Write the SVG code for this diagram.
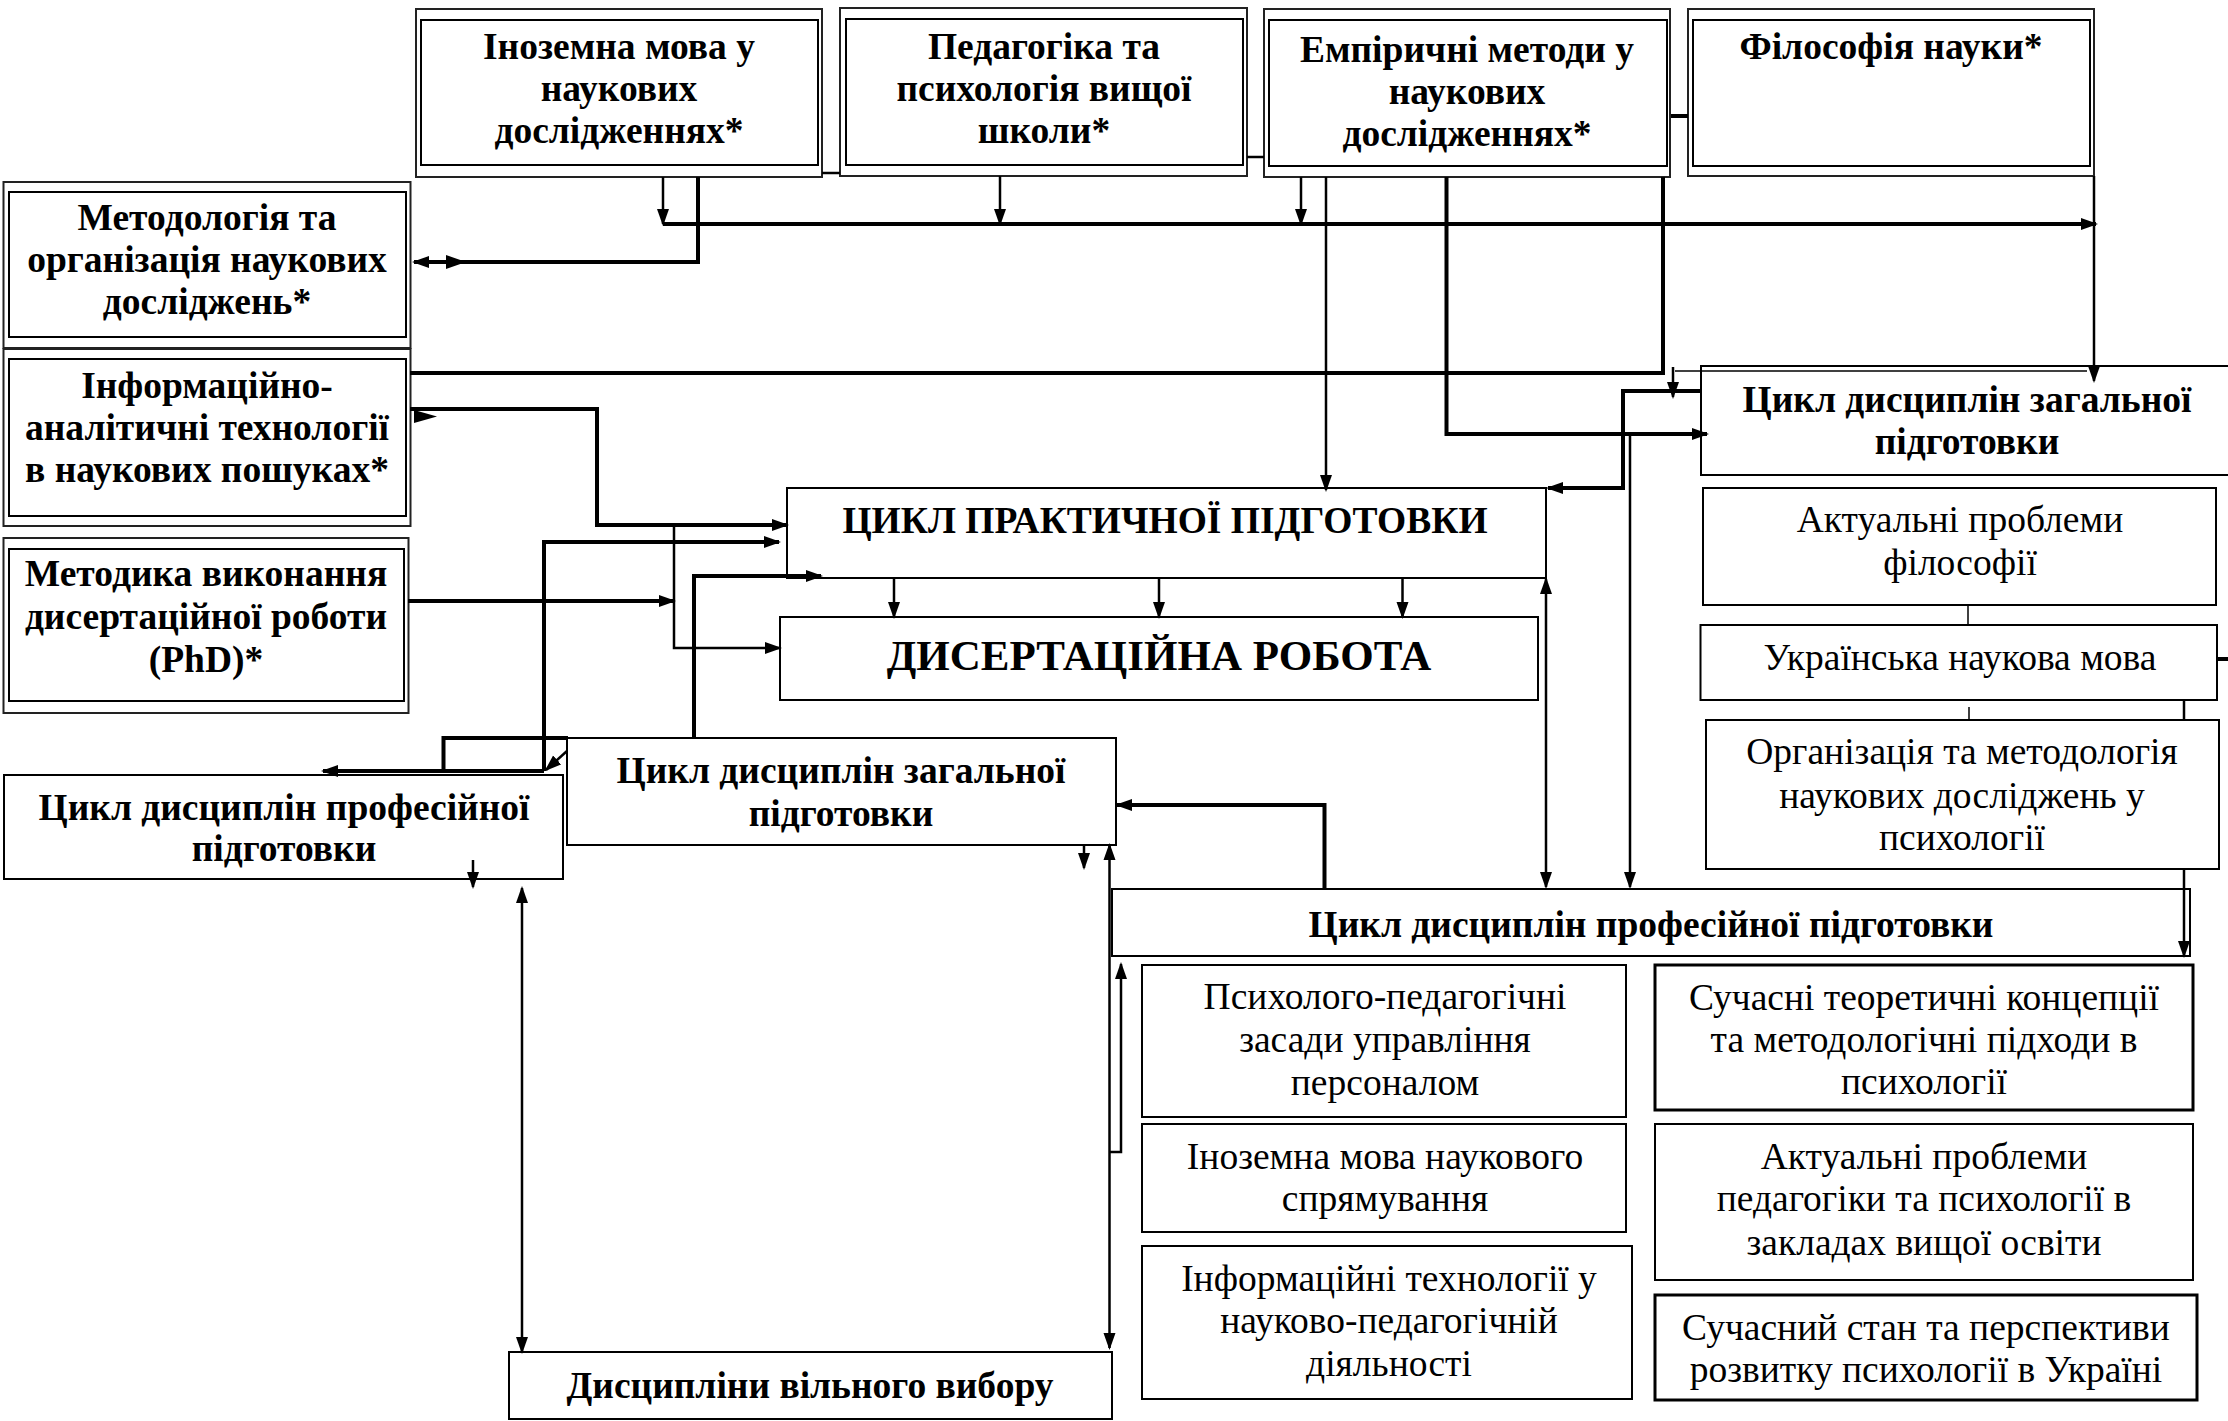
<svg xmlns="http://www.w3.org/2000/svg" width="2228" height="1421" viewBox="0 0 2228 1421">
<style>
.b{font-family:"Liberation Serif","Times New Roman",serif;font-weight:bold;font-size:37.5px;text-anchor:middle;fill:#000}
.r{font-family:"Liberation Serif","Times New Roman",serif;font-weight:normal;font-size:37.5px;text-anchor:middle;fill:#000}
.box{fill:#fff;stroke:#000;stroke-width:2}
.box3{fill:#fff;stroke:#000;stroke-width:3}
.out{fill:#fff;stroke:#222;stroke-width:2}
.ln{fill:none;stroke:#000;stroke-width:2.5}
.tk{fill:none;stroke:#000;stroke-width:4}
.tn{fill:none;stroke:#000;stroke-width:1.5}
.ah{fill:#000}
</style>
<defs>
<marker id="a" markerUnits="userSpaceOnUse" markerWidth="18" markerHeight="14" refX="15" refY="7" orient="auto-start-reverse" viewBox="0 0 18 14"><path d="M0,1 L17,7 L0,13 z" fill="#000"/></marker>
</defs>
<rect width="2228" height="1421" fill="#fff"/>

<g id="n-inozemna">
<rect class="out" x="416" y="9" width="406" height="168"/>
<rect class="box" x="421" y="20" width="397" height="145"/>
<text class="b" x="619" y="59">Іноземна мова у</text>
<text class="b" x="619" y="101">наукових</text>
<text class="b" x="619" y="143">дослідженнях*</text>
</g>
<g id="n-pedagogika">
<rect class="out" x="840" y="8" width="407" height="168"/>
<rect class="box" x="846" y="19" width="397" height="146"/>
<text class="b" x="1044" y="59">Педагогіка та</text>
<text class="b" x="1044" y="101">психологія вищої</text>
<text class="b" x="1044" y="143">школи*</text>
</g>
<g id="n-empirychni">
<rect class="out" x="1264" y="9" width="406" height="168"/>
<rect class="box" x="1269" y="20" width="398" height="146"/>
<text class="b" x="1467" y="62">Емпіричні методи у</text>
<text class="b" x="1467" y="104">наукових</text>
<text class="b" x="1467" y="146">дослідженнях*</text>
</g>
<g id="n-filosofia">
<rect class="out" x="1688" y="9" width="406" height="167"/>
<rect class="box" x="1693" y="20" width="397" height="146"/>
<text class="b" x="1891" y="59">Філософія науки*</text>
</g>
<g id="n-metodologia">
<rect class="out" x="3.5" y="182" width="407" height="166"/>
<rect class="box" x="9" y="192" width="397" height="145"/>
<text class="b" x="207" y="230">Методологія та</text>
<text class="b" x="207" y="272">організація наукових</text>
<text class="b" x="207" y="314">досліджень*</text>
</g>
<g id="n-informatsiyno">
<rect class="out" x="3.5" y="349" width="407" height="177"/>
<rect class="box" x="9" y="359" width="397" height="157"/>
<text class="b" x="207" y="398">Інформаційно-</text>
<text class="b" x="207" y="440">аналітичні технології</text>
<text class="b" x="207" y="482">в наукових пошуках*</text>
</g>
<g id="n-metodyka">
<rect class="out" x="3.5" y="538" width="405" height="175"/>
<rect class="box" x="9" y="549" width="395" height="152"/>
<text class="b" x="206" y="586">Методика виконання</text>
<text class="b" x="206" y="629">дисертаційної роботи</text>
<text class="b" x="206" y="672">(PhD)*</text>
</g>
<g id="n-praktychna">
<rect class="box" x="787" y="488" width="759" height="90"/>
<text class="b" x="1165" y="533">ЦИКЛ ПРАКТИЧНОЇ ПІДГОТОВКИ</text>
</g>
<g id="n-dysertatsiya">
<rect class="box" x="780" y="617" width="758" height="83"/>
<text class="b" x="1159" y="670" style="font-size:43px">ДИСЕРТАЦІЙНА РОБОТА</text>
</g>
<g id="n-zagalna-mid">
<rect class="box" x="567" y="738" width="549" height="107"/>
<text class="b" x="841" y="783">Цикл дисциплін загальної</text>
<text class="b" x="841" y="826">підготовки</text>
</g>
<g id="n-profesiyna-left">
<rect class="box" x="4" y="775" width="559" height="104"/>
<text class="b" x="284" y="820">Цикл дисциплін професійної</text>
<text class="b" x="284" y="861">підготовки</text>
</g>
<g id="n-vilnyi">
<rect class="box" x="509" y="1352" width="603" height="67"/>
<text class="b" x="810" y="1398">Дисципліни вільного вибору</text>
</g>
<g id="n-zagalna-right">
<rect class="box" x="1701" y="366" width="560" height="109"/>
<text class="b" x="1967" y="412">Цикл дисциплін загальної</text>
<text class="b" x="1967" y="454">підготовки</text>
</g>
<g id="n-aktualni-filosofii">
<rect class="box" x="1703" y="488" width="513" height="117"/>
<text class="r" x="1960" y="532">Актуальні проблеми</text>
<text class="r" x="1960" y="575">філософії</text>
</g>
<g id="n-ukrainska">
<rect class="box" x="1700.5" y="625" width="516.5" height="75"/>
<text class="r" x="1960" y="670">Українська наукова мова</text>
</g>
<g id="n-organizatsiya">
<rect class="box" x="1706" y="720" width="513" height="149"/>
<text class="r" x="1962" y="764">Організація та методологія</text>
<text class="r" x="1962" y="808">наукових досліджень у</text>
<text class="r" x="1962" y="850">психології</text>
</g>
<g id="n-profesiyna-right">
<rect class="box" x="1112" y="889" width="1078" height="67"/>
<text class="b" x="1651" y="937">Цикл дисциплін професійної підготовки</text>
</g>
<g id="n-psykholoho">
<rect class="box" x="1142" y="965" width="484" height="152"/>
<text class="r" x="1385" y="1009">Психолого-педагогічні</text>
<text class="r" x="1385" y="1052">засади управління</text>
<text class="r" x="1385" y="1095">персоналом</text>
</g>
<g id="n-inozemna-nauk">
<rect class="box" x="1142" y="1124" width="484" height="108"/>
<text class="r" x="1385" y="1169">Іноземна мова наукового</text>
<text class="r" x="1385" y="1211">спрямування</text>
</g>
<g id="n-informatsiyni">
<rect class="box" x="1142" y="1246" width="490" height="153"/>
<text class="r" x="1389" y="1291">Інформаційні технології у</text>
<text class="r" x="1389" y="1333">науково-педагогічній</text>
<text class="r" x="1389" y="1376">діяльності</text>
</g>
<g id="n-suchasni-teor">
<rect class="box3" x="1655" y="965" width="538" height="145"/>
<text class="r" x="1924" y="1010">Сучасні теоретичні концепції</text>
<text class="r" x="1924" y="1052">та методологічні підходи в</text>
<text class="r" x="1924" y="1094">психології</text>
</g>
<g id="n-aktualni-ped">
<rect class="box" x="1655" y="1124" width="538" height="156"/>
<text class="r" x="1924" y="1169">Актуальні проблеми</text>
<text class="r" x="1924" y="1211">педагогіки та психології в</text>
<text class="r" x="1924" y="1255">закладах вищої освіти</text>
</g>
<g id="n-suchasnyi-stan">
<rect class="box3" x="1655" y="1295" width="542" height="105"/>
<text class="r" x="1926" y="1340">Сучасний стан та перспективи</text>
<text class="r" x="1926" y="1382">розвитку психології в Україні</text>
</g>

<g id="connectors">
<path class="ln" d="M822,173 H840"/>
<path class="ln" d="M1247,157 H1264"/>
<path class="tk" d="M1671,116 H1688"/>
<path class="ln" d="M663,177 V224" marker-end="url(#a)"/>
<path class="tk" d="M698,177 V262 H414" marker-end="url(#a)"/>
<polygon class="ah" points="446,255 466,262 446,269"/>
<path class="tk" d="M663,224 H2096" marker-end="url(#a)"/>
<path class="ln" d="M1000,176 V224" marker-end="url(#a)"/>
<path class="ln" d="M1301,177 V224" marker-end="url(#a)"/>
<path class="ln" d="M2094,176 V381" marker-end="url(#a)"/>
<path class="ln" d="M1326,177 V490" marker-end="url(#a)"/>
<path class="tk" d="M1446.5,177 V434 H1707" marker-end="url(#a)"/>
<path class="tk" d="M1663,177 V373 H410"/>
<path class="ln" d="M1673,367 V397" marker-end="url(#a)"/>
<path class="tn" d="M1675,371 H2087"/>
<path class="tk" d="M1701,391 H1623 V488 H1548" marker-end="url(#a)"/>
<path class="ln" d="M1630,434 V887" marker-end="url(#a)"/>
<path class="tk" d="M410,409 H597 V525 H787" marker-end="url(#a)"/>
<polygon class="ah" points="414,410 437,416.5 414,423"/>
<path class="ln" d="M674,525 V648 H780" marker-end="url(#a)"/>
<path class="tk" d="M408,601 H674" marker-end="url(#a)"/>
<path class="tk" d="M544,771 V542 H779" marker-end="url(#a)"/>
<path class="tk" d="M694,738 V576 H821" marker-end="url(#a)"/>
<path class="tk" d="M544,771 H323" marker-end="url(#a)"/>
<path class="tk" d="M443.5,771 V738 H568"/>
<path class="ln" d="M567,751 L546,770" marker-end="url(#a)"/>
<path class="ln" d="M894,578 V617" marker-end="url(#a)"/>
<path class="ln" d="M1159,578 V617" marker-end="url(#a)"/>
<path class="ln" d="M1402.5,578 V617" marker-end="url(#a)"/>
<path class="ln" d="M1546,579 V887" marker-start="url(#a)" marker-end="url(#a)"/>
<path class="tk" d="M1324.5,889 V805 H1117" marker-end="url(#a)"/>
<path class="ln" d="M1084,845 V868" marker-end="url(#a)"/>
<path class="ln" d="M1109.5,845 V1348" marker-start="url(#a)" marker-end="url(#a)"/>
<path class="ln" d="M1110,1152 H1121 V964" marker-end="url(#a)"/>
<path class="ln" d="M473,860 V887" marker-end="url(#a)"/>
<path class="ln" d="M522,888 V1352" marker-start="url(#a)" marker-end="url(#a)"/>
<path class="tn" d="M1968,605 V625"/>
<path class="tn" d="M1969,707 V720"/>
<path class="ln" d="M2184,700 V720"/>
<path class="tk" d="M2217,659 H2228"/>
<path class="ln" d="M2184,869 V956" marker-end="url(#a)"/>
</g>
</svg>
